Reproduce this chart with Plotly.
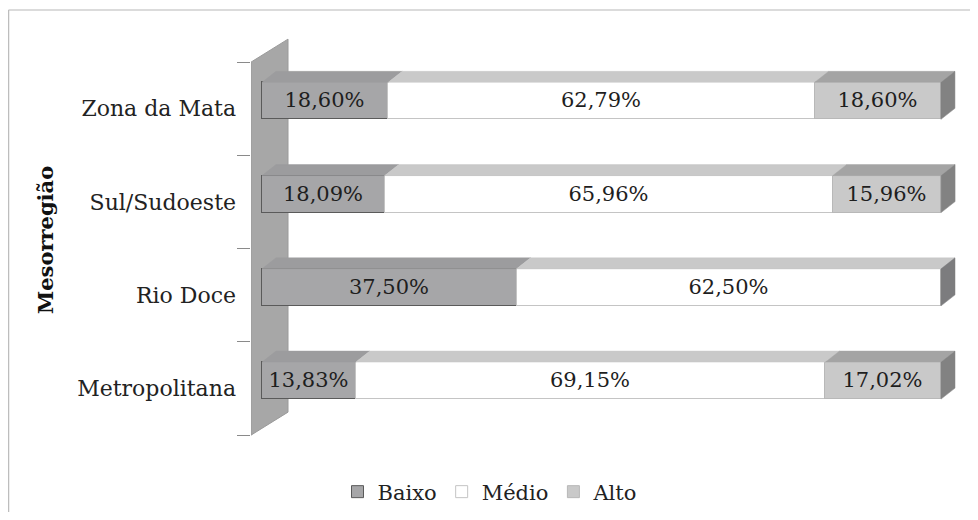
import plotly.graph_objects as go

# ---------------- data ----------------
categories = ["Metropolitana", "Rio Doce", "Sul/Sudoeste", "Zona da Mata"]
series_names = ["Baixo", "Médio", "Alto"]
baixo = [13.83, 37.50, 18.09, 18.60]
medio = [69.15, 62.50, 65.96, 62.79]
alto = [17.02, 0.0, 15.96, 18.60]
axis_title = "Mesorregião"

# ---------------- styles ----------------
front_colors = ["#a6a6a8", "#ffffff", "#c9c9c9"]
top_colors = ["#9c9c9e", "#c9c9c9", "#a4a4a4"]
side_colors = ["#7f7f81", "#7c7c7e", "#828282"]
line_colors = ["#5a5a5a", "#c4c4c4", "#b8b8b8"]
wall_color = "#a7a7a7"
FONT = "DejaVu Serif"

# page geometry (page pixels; the browser body adds an 8px margin)
OFF = 8
W, H = 962, 504
L, R, T, B = 251 - OFF, 962 - OFF, 30 - OFF, 445 - OFF
X0_PX, X100_PX = 262 - OFF, 941 - OFF
k = (X100_PX - X0_PX) / 100.0
CAT_PX = 93.25
x_range = [(L - X0_PX) / k, (R - X0_PX) / k]
c0_px = 388.5 - OFF
y_range = [(c0_px - B) / CAT_PX, (c0_px - T) / CAT_PX]

bar_w = 37 / CAT_PX
bar_shift = 7.9 / CAT_PX
dx = 14 / k
dy = 11 / CAT_PX
wall_dx = 37 / k
wall_dy = 23 / CAT_PX


def fmt(v):
    return "" if v == 0 else f"{v:.2f}".replace(".", ",") + "%"


idx = list(range(len(categories)))
all_series = [baixo, medio, alto]

fig = go.Figure()
for name, vals, fc, lc in zip(series_names, all_series, front_colors, line_colors):
    fig.add_trace(go.Bar(
        y=idx, x=vals, name=name, orientation="h",
        width=bar_w, offset=-bar_w / 2 + bar_shift,
        marker=dict(color=fc, line=dict(color=lc, width=1)),
        text=[fmt(v) for v in vals], textposition="inside",
        insidetextanchor="middle", textangle=0,
        textfont=dict(family=FONT, size=21, color="#1e1e1e"),
        hoverinfo="skip",
    ))

shapes = []
wx0 = x_range[0]
yb, yt = -0.5, len(categories) - 0.5
shapes.append(dict(
    type="path", xref="x", yref="y", layer="below",
    path=f"M {wx0},{yb} L {wx0},{yt} L {wx0 + wall_dx},{yt + wall_dy} "
         f"L {wx0 + wall_dx},{yb + wall_dy} Z",
    fillcolor=wall_color, line=dict(color="#9a9a9a", width=1),
))

for i in idx:
    yc = i + bar_shift
    ylo, yhi = yc - bar_w / 2, yc + bar_w / 2
    start = 0.0
    last = None
    for s, vals in enumerate(all_series):
        v = vals[i]
        if v <= 0:
            continue
        end = start + v
        shapes.append(dict(
            type="path", xref="x", yref="y", layer="above",
            path=f"M {start},{yhi} L {end},{yhi} L {end + dx},{yhi + dy} "
                 f"L {start + dx},{yhi + dy} Z",
            fillcolor=top_colors[s], line=dict(color=top_colors[s], width=0.5),
        ))
        last = (end, s)
        start = end
    end, s = last
    shapes.append(dict(
        type="path", xref="x", yref="y", layer="above",
        path=f"M {end},{ylo} L {end},{yhi} L {end + dx},{yhi + dy} "
             f"L {end + dx},{ylo + dy} Z",
        fillcolor=side_colors[s], line=dict(color=side_colors[s], width=0.5),
    ))

px_x = lambda p: (p - OFF - L) / (R - L)
px_y = lambda p: (B - (p - OFF)) / (B - T)
shapes.append(dict(type="line", xref="paper", yref="paper",
                   x0=px_x(8.5), x1=px_x(970), y0=px_y(10), y1=px_y(10),
                   line=dict(color="#cfcfcf", width=1.5)))
shapes.append(dict(type="line", xref="paper", yref="paper",
                   x0=px_x(8.5), x1=px_x(8.5), y0=px_y(10), y1=px_y(512),
                   line=dict(color="#bdbdbd", width=1.5)))

fig.update_layout(
    width=W, height=H,
    margin=dict(l=L, r=W - R, t=T, b=H - B, autoexpand=False),
    paper_bgcolor="white", plot_bgcolor="white",
    barmode="stack", bargap=0,
    shapes=shapes,
    showlegend=True,
    legend=dict(orientation="h", traceorder="normal",
                x=px_x(490), xanchor="center",
                y=px_y(492), yanchor="middle",
                font=dict(family=FONT, size=21, color="#222"),
                itemclick=False, itemdoubleclick=False),
    xaxis=dict(range=x_range, visible=False, fixedrange=True),
    yaxis=dict(range=y_range, tickmode="array", tickvals=idx, ticktext=categories,
               ticks="", showgrid=False, zeroline=False, showline=False,
               ticklabelstandoff=14, automargin=False,
               tickfont=dict(family=FONT, size=22, color="#222"),
               minor=dict(tickmode="array",
                          tickvals=[i - 0.5 for i in range(len(categories) + 1)],
                          ticks="outside", ticklen=13, tickcolor="#8a8a8a",
                          tickwidth=1, showgrid=False),
               fixedrange=True),
    annotations=[dict(text=f"<b>{axis_title}</b>", textangle=-90,
                      xref="paper", yref="paper", x=px_x(45), y=px_y(240),
                      xanchor="center", yanchor="middle", showarrow=False,
                      font=dict(family=FONT, size=21, color="#111"))],
)

fig.write_html("out.html")
